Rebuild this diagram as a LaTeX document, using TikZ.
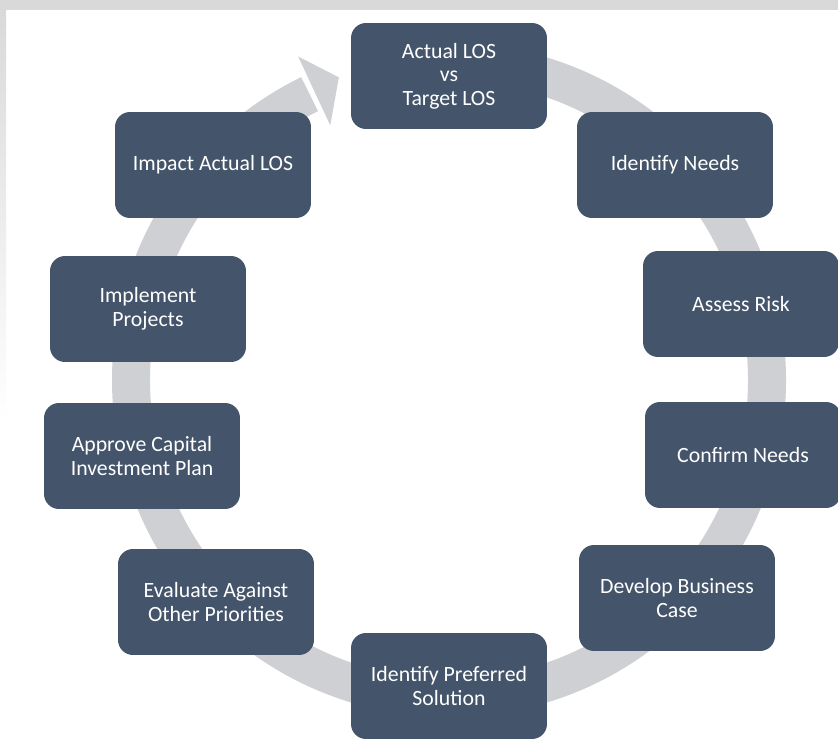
\documentclass[tikz,border=0pt]{standalone}
\usepackage{fontspec}
\setmainfont{Carlito}
\usepackage{xcolor}
\usepackage{tikz}
\usetikzlibrary{positioning}
\definecolor{boxblue}{HTML}{44546A}
\definecolor{ringgray}{HTML}{CFD0D3}
\definecolor{framegray}{HTML}{D9D9D9}

\begin{document}
\begin{tikzpicture}[
    x=0.02cm, y=0.02cm,
    ring/.style={ringgray, line width=0.76cm},
    stage/.style={rectangle, fill=boxblue, rounded corners=0.3cm, minimum width=3.92cm,
        minimum height=2.12cm, align=center, text=white, inner sep=2pt,
        font=\fontsize{12.4}{13.4}\selectfont}
]
\useasboundingbox (0,0) rectangle (838,-739);
\fill[white] (0,0) rectangle (838,-739);
\fill[framegray] (0,0) rectangle (838,-10);
\shade[top color=framegray, bottom color=white] (0,-10) rectangle (6,-420);

% the cycle ring
\coordinate (hub) at (449,-380);
\draw[ring] ([shift={(95:318)}]hub) arc (95:-244:318);
\fill[ringgray] ([shift={(115:281)}]hub) -- ([shift={(115:357)}]hub) -- ([shift={(110:322)}]hub) -- cycle;

% the stages
\node[stage] (actual)    at (449,-76)  {Actual LOS\\vs\\Target LOS};
\node[stage] (needs)     at (675,-165) {Identify Needs};
\node[stage] (risk)      at (741,-304) {Assess Risk};
\node[stage] (confirm)   at (743,-455) {Confirm Needs};
\node[stage] (business)  at (677,-598) {Develop Business\\Case};
\node[stage] (solution)  at (449,-686) {Identify Preferred\\Solution};
\node[stage] (evaluate)  at (216,-602) {Evaluate Against\\Other Priorities};
\node[stage] (approve)   at (142,-456) {Approve Capital\\Investment Plan};
\node[stage] (implement) at (148,-309) {Implement\\Projects};
\node[stage] (impact)    at (213,-165) {Impact Actual LOS};
\end{tikzpicture}
\end{document}
